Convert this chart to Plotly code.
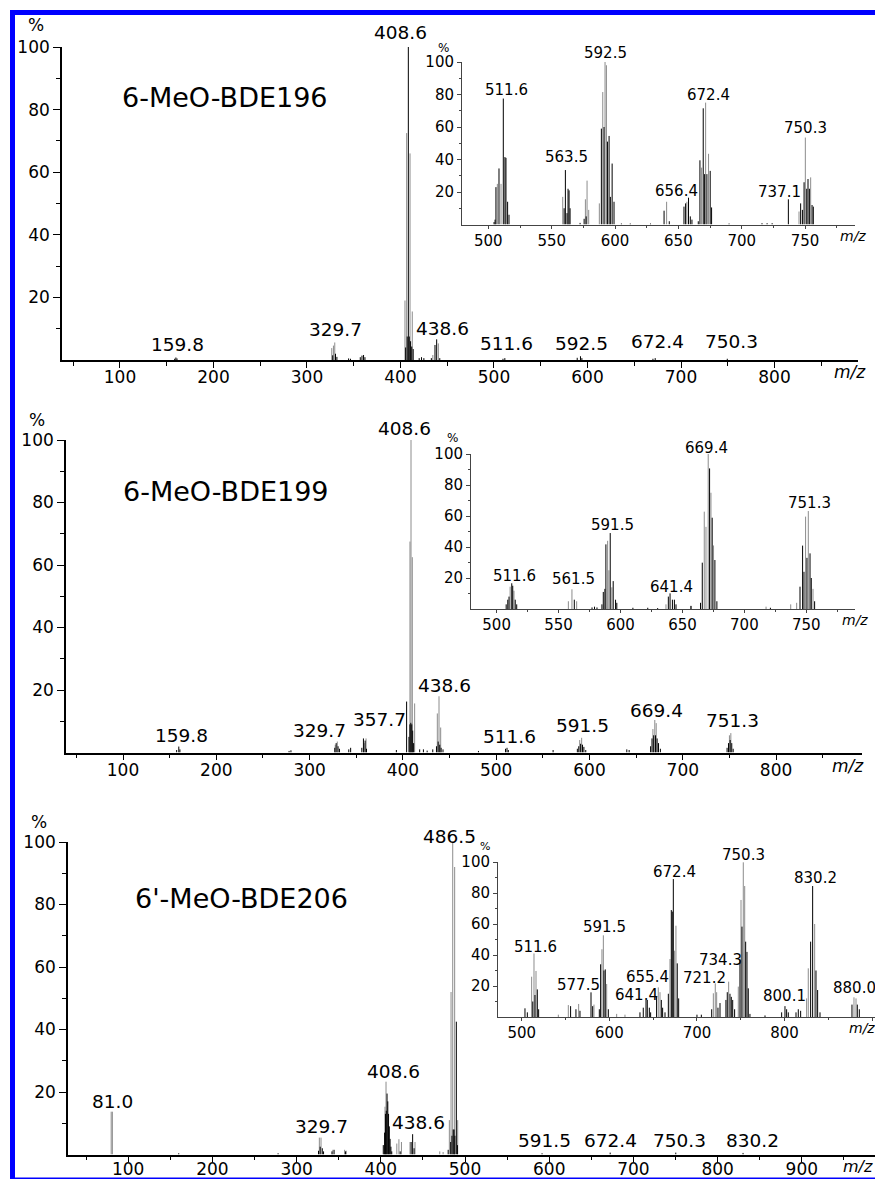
import plotly.graph_objects as go

W, H = 875, 1179
FONT = "DejaVu Sans"
GRAY = "#8c8c8c"
BLACK = "#000000"

# ======================= DATA =======================
# --- 6-MeO-BDE196, full scan ---
a_gray_mz = [326.5, 328.3, 329.7, 404.8, 406.6, 410.2, 412.6, 434.6, 440.5]
a_gray_int = [3.8, 4.6, 5.6, 19.0, 72.5, 66.0, 15.5, 1.6, 5.3]
a_black_mz = [158.5, 159.8, 161.0, 327.5, 330.5, 332.0, 344.5, 346.5, 357.0, 358.8, 360.5, 362.0,
              405.5, 407.2, 408.4, 409.4, 410.8, 412.0, 413.6, 420.0, 422.5, 425.0, 433.0, 436.9,
              438.7, 442.0, 509.6, 511.6, 589.0, 592.5, 594.0, 670.0, 672.4, 749.5]
a_black_int = [0.4, 0.8, 0.5, 1.5, 2.0, 1.0, 0.5, 0.4, 0.9, 1.4, 1.6, 0.9,
               4.0, 7.5, 100.0, 7.5, 6.0, 4.3, 3.5, 0.6, 0.9, 0.6, 0.6, 4.8,
               6.6, 0.6, 0.4, 0.6, 0.7, 1.2, 0.6, 0.4, 0.6, 0.4]
a_labels = ["408.6", "159.8", "329.7", "438.6", "511.6", "592.5", "672.4", "750.3"]

# --- 6-MeO-BDE196, inset ---
ai_gray_mz = [507.1, 510.0, 558.7, 576.6, 577.9, 579.2, 587.6, 590.3, 592.1, 593.2, 640.7,
              656.7, 668.3, 671.5, 673.8, 745.2, 750.2, 754.4]
ai_gray_int = [25, 25, 17, 15.5, 27, 9, 13, 81.5, 100, 98, 14,
               14, 35, 75, 43.5, 8, 53.5, 29]
ai_black_mz = [504.5, 505.3, 506.0, 508.4, 511.8, 513.1, 513.9, 515.2, 516.3, 559.8, 560.8, 562.1,
               562.9, 563.7, 564.5, 572.4, 575.6, 577.2, 589.2, 591.3, 594.0, 595.3, 596.3, 597.7,
               599.2, 605.0, 612.0, 628.0, 638.7, 642.8, 654.4, 655.7, 658.0, 659.4, 660.7, 665.7,
               667.0, 669.6, 670.7, 672.5, 675.1, 676.2, 690.0, 716.0, 720.0, 724.0, 736.8, 746.5,
               747.9, 749.2, 751.3, 752.3, 753.4, 755.5, 756.5]
ai_black_int = [1.5, 3, 23, 34.5, 77.5, 41.5, 41, 14, 6, 10, 33.5, 7,
                22, 21, 10, 1, 3.5, 5, 59, 60, 51, 54.5, 17, 37.5,
                14, 0.6, 0.6, 0.6, 8.5, 2, 11, 13, 16.5, 5, 3, 2,
                39.5, 71.5, 31, 31, 33, 10.5, 0.6, 0.8, 0.8, 0.8, 15.5, 13,
                9, 26, 22, 28, 22, 12, 11]
ai_labels = ["511.6", "563.5", "592.5", "656.4", "672.4", "737.1", "750.3"]

# --- 6-MeO-BDE199, full scan ---
b_gray_mz = [327.5, 329.7, 358.5, 360.5, 407.6, 408.7, 410.1, 412.6, 436.9, 438.7, 440.5,
             589.5, 591.6, 668.0, 670.0, 671.5, 750.0, 751.5]
b_gray_int = [2.5, 3.5, 3.0, 4.5, 67.5, 100, 62.5, 15.7, 12.5, 18.0, 8.0,
              4.0, 4.7, 7.5, 10.4, 9.4, 5.5, 6.2]
b_black_mz = [157.5, 159.8, 161.0, 278.0, 280.0, 327.0, 328.5, 330.5, 332.0, 342.0, 344.0, 356.0,
              357.7, 359.5, 361.0, 393.0, 404.0, 406.5, 407.5, 408.5, 409.5, 410.5, 411.5, 418.0,
              422.0, 426.0, 432.0, 436.0, 437.8, 439.5, 441.0, 443.0, 481.0, 510.0, 511.6, 513.0,
              561.0, 587.0, 588.5, 590.5, 592.5, 594.0, 596.0, 640.0, 642.5, 665.5, 667.0, 668.8,
              670.8, 672.5, 674.0, 676.0, 747.5, 749.0, 750.8, 752.5, 754.0]
b_black_int = [0.8, 1.9, 1.0, 0.5, 0.7, 1.5, 3.0, 2.0, 1.2, 1.0, 1.5, 1.5,
               4.5, 3.8, 1.2, 0.8, 16.3, 5, 9, 9.5, 9, 7, 3, 1.0,
               1.0, 0.6, 1.0, 2.0, 3.5, 2.5, 1.5, 1.0, 0.5, 1.2, 1.5, 0.8,
               0.8, 1.2, 2.0, 2.8, 2.5, 1.8, 0.8, 1.0, 0.8, 2.0, 4.5, 5.5,
               5.5, 4.5, 3.0, 1.2, 1.5, 3.0, 4.0, 3.0, 1.2]
b_labels = ["408.6", "159.8", "329.7", "357.7", "438.6", "511.6", "591.5", "669.4", "751.3"]

# --- 6-MeO-BDE199, inset ---
bi_gray_mz = [510.9, 514.0, 557.9, 560.8, 564.6, 589.6, 590.6, 593.0, 636.7, 656.5, 667.6,
              669.0, 670.8, 673.0, 675.1, 717.5, 737.4, 742.2, 749.4, 751.6, 755.4]
bi_gray_int = [14.4, 11.8, 5, 12.7, 5, 44, 25, 14, 3, 2, 62.8,
               53, 100, 75, 41, 1.5, 3, 4, 59.6, 63.2, 13]
bi_black_mz = [507.7, 509.0, 510.0, 512.2, 513.0, 515.0, 516.2, 562.7, 577.0, 579.0, 581.0, 585.0,
               586.1, 587.4, 588.2, 591.7, 594.1, 596.0, 597.0, 610.0, 622.0, 630.0, 638.6, 640.0,
               641.9, 643.5, 644.8, 657.0, 664.6, 666.0, 671.9, 674.0, 676.2, 677.8, 721.0, 744.9,
               747.0, 748.1, 750.5, 753.0, 754.0, 756.7]
bi_black_int = [3, 6, 8, 16.6, 15, 6, 3, 6, 1, 1.5, 1, 3,
                11, 13, 41.7, 49, 18, 6, 4, 0.8, 0.8, 0.6, 8, 10.1,
                6, 6, 3, 2, 4, 29.9, 90.7, 58.9, 31.6, 5, 0.8, 14.4,
                40.9, 24, 33, 35.9, 20, 5]
bi_labels = ["511.6", "561.5", "591.5", "641.4", "669.4", "751.3"]

# --- 6'-MeO-BDE206, full scan ---
c_gray_mz = [79.8, 81.2, 327.0, 329.0, 343.0, 357.0, 359.0, 402.6, 405.0, 406.2, 419.0, 421.5,
             424.5, 434.7, 440.6, 470.0, 474.0, 481.4, 483.4, 485.4, 487.7, 491.3]
c_gray_int = [13.7, 13.7, 5.4, 5.4, 1.5, 1.5, 1.2, 3, 15.3, 23.3, 3.5, 4.9,
              4.0, 4.0, 4.0, 1.0, 0.8, 11, 52, 100, 92, 11]
c_black_mz = [160.0, 278.0, 326.0, 328.0, 330.5, 332.0, 342.0, 344.5, 358.0, 403.5, 404.5, 405.5,
              406.5, 407.4, 408.3, 409.2, 410.1, 411.0, 412.0, 413.0, 423.0, 436.0, 437.8, 439.5,
              480.0, 483.0, 484.5, 486.0, 487.0, 488.0, 489.7, 491.0, 591.5, 672.4, 750.3, 830.2]
c_black_int = [0.4, 0.4, 1.2, 2.5, 2.0, 1.0, 1.0, 1.5, 1.0, 3, 7, 13,
               14, 19.5, 17, 13, 9, 5, 2.5, 1, 1, 4, 6.5, 2,
               1.5, 4, 6, 8, 8, 6, 42.5, 3, 0.4, 0.6, 0.6, 0.5]
c_labels = ["81.0", "329.7", "408.6", "438.6", "486.5", "591.5", "672.4", "750.3", "830.2"]

# --- 6'-MeO-BDE206, inset ---
ci_gray_mz = [511.2, 513.9, 516.2, 541.7, 553.1, 564.9, 582.4, 591.5, 593.1, 596.9, 608.3, 617.8,
              655.8, 657.8, 669.2, 674.5, 676.0, 718.7, 720.9, 722.5, 736.2, 747.2, 750.3, 752.9,
              754.5, 825.2, 827.1, 834.4, 879.3, 881.6]
ci_gray_int = [26, 41, 29.7, 1.5, 7.7, 8.4, 8, 43.7, 52.7, 21.3, 2, 1.5,
               19.1, 16, 37.4, 42.8, 58.9, 15.3, 21.7, 16, 22.8, 19.6, 75.5, 99.8,
               84.5, 12, 31.4, 60, 12.7, 12]
ci_black_mz = [503.6, 506.3, 512.5, 515.0, 517.7, 519.2, 555.7, 561.8, 566.4, 579.0, 580.9, 588.5,
               590.0, 593.8, 595.3, 598.8, 634.9, 638.7, 641.8, 643.3, 645.6, 647.1, 653.9, 659.3,
               660.8, 663.5, 667.3, 670.7, 671.8, 673.0, 677.5, 679.1, 700.0, 705.0, 716.8, 724.0,
               726.3, 733.1, 734.6, 737.7, 739.2, 740.8, 743.0, 749.1, 751.4, 755.6, 757.1, 758.6,
               760.5, 777.7, 796.7, 800.5, 802.4, 804.3, 813.1, 815.7, 818.4, 829.8, 832.1, 835.9,
               837.8, 840.5, 877.0, 883.1, 885.4]
ci_black_int = [5.6, 3, 10, 14.2, 17.8, 5, 7, 5, 4, 15.9, 7, 5,
                34, 30, 30.7, 5, 3, 6, 11, 11, 6, 3, 13, 11,
                6, 3, 15, 69, 68, 89, 34.6, 12, 1.5, 1.5, 5, 6,
                9, 11, 16, 15, 13, 11, 5, 37, 58.3, 48.6, 42, 18.5,
                2, 1, 3, 7, 5, 3, 3, 5, 4, 48.6, 84.5, 30,
                17.4, 3, 8, 8, 5]
ci_labels = ["511.6", "577.5", "591.5", "641.4", "655.4", "672.4", "721.2", "734.3", "750.3",
             "800.1", "830.2", "880.0"]

compounds = ["6-MeO-BDE196", "6-MeO-BDE199", "6'-MeO-BDE206"]

main_y_ticks = [20, 40, 60, 80, 100]
main_y_minor = [10, 30, 50, 70, 90]
main_x_ticks_ab = [100, 200, 300, 400, 500, 600, 700, 800]
main_x_minor_ab = [50, 150, 250, 350, 450, 550, 650, 750, 850]
main_x_ticks_c = [100, 200, 300, 400, 500, 600, 700, 800, 900]
main_x_minor_c = [50, 150, 250, 350, 450, 550, 650, 750, 850, 950]
inset_x_ticks_ab = [500, 550, 600, 650, 700, 750]
inset_x_minor_ab = [525, 575, 625, 675, 725, 775]
inset_x_ticks_c = [500, 600, 700, 800, 900]
inset_x_minor_c = [550, 650, 750, 850]

# ======================= LAYOUT CONFIG (positions in px / axis units) =======================
def fx(px):
    return px / W


def fy(py):
    return 1 - py / H


# label placements (m/z, %) per panel, same order as label lists
a_lab_pos = [(400.5, 104.6), (161.0, 5.1), (330.0, 9.6), (445.4, 10.2), (513.9, 5.4),
             (594.1, 5.4), (675.4, 5.8), (754.5, 5.8)]
ai_lab_pos = [(514.5, 82.8), (561.9, 41.7), (592.2, 105.4), (648.7, 20.6), (673.6, 79.7),
              (729.7, 20.2), (750.7, 59.2)]
b_lab_pos = [(402.2, 103.8), (162.9, 5.6), (310.5, 7.2), (374.9, 10.6), (445.1, 21.6),
             (514.8, 5.0), (592.0, 8.8), (672.3, 13.6), (753.8, 10.4)]
bi_lab_pos = [(514.3, 21.3), (561.9, 19.2), (593.7, 54.2), (641.3, 14.4), (669.6, 103.7),
              (752.4, 68.2)]
c_lab_pos = [(81.9, 16.9), (329.8, 8.9), (414.8, 26.5), (444.2, 10.1), (482.0, 101.7),
             (593.8, 4.6), (673.0, 4.6), (754.2, 4.6), (842.0, 4.6)]
ci_lab_pos = [(515.8, 45.4), (564.5, 20.6), (594.2, 58.3), (631.1, 14.2), (643.3, 26.0),
              (674.9, 93.7), (709.1, 25.0), (726.3, 36.8), (752.9, 104.5), (800.5, 13.5),
              (834.8, 89.9), (880.4, 18.5)]

panels = [
    dict(ax="", main=True, xd=(62, 858), yd=(360, 47), xr=(38.0, 889.3), so=-5,
         gm=a_gray_mz, gi=a_gray_int, bm=a_black_mz, bi=a_black_int,
         labels=a_labels, pos=a_lab_pos, xt=main_x_ticks_ab, xm=main_x_minor_ab),
    dict(ax="2", main=False, xd=(462, 855), yd=(224.5, 62), xr=(479.2, 789.4), so=-1,
         gm=ai_gray_mz, gi=ai_gray_int, bm=ai_black_mz, bi=ai_black_int,
         labels=ai_labels, pos=ai_lab_pos, xt=inset_x_ticks_ab, xm=inset_x_minor_ab),
    dict(ax="3", main=True, xd=(66, 862), yd=(752.5, 440), xr=(38.9, 892.1), so=-5,
         gm=b_gray_mz, gi=b_gray_int, bm=b_black_mz, bi=b_black_int,
         labels=b_labels, pos=b_lab_pos, xt=main_x_ticks_ab, xm=main_x_minor_ab),
    dict(ax="4", main=False, xd=(471, 855), yd=(609, 454), xr=(479.3, 789.3), so=-1,
         gm=bi_gray_mz, gi=bi_gray_int, bm=bi_black_mz, bi=bi_black_int,
         labels=bi_labels, pos=bi_lab_pos, xt=inset_x_ticks_ab, xm=inset_x_minor_ab),
    dict(ax="5", main=True, xd=(68, 875), yd=(1154.5, 842), xr=(28.5, 986.9), so=-8,
         gm=c_gray_mz, gi=c_gray_int, bm=c_black_mz, bi=c_black_int,
         labels=c_labels, pos=c_lab_pos, xt=main_x_ticks_c, xm=main_x_minor_c),
    dict(ax="6", main=False, xd=(498, 875), yd=(1017, 862), xr=(472.8, 903.3), so=-1,
         gm=ci_gray_mz, gi=ci_gray_int, bm=ci_black_mz, bi=ci_black_int,
         labels=ci_labels, pos=ci_lab_pos, xt=inset_x_ticks_c, xm=inset_x_minor_c),
]


def sticks(mz, inten):
    assert len(mz) == len(inten), (len(mz), len(inten))
    xs, ys = [], []
    for m, v in zip(mz, inten):
        xs += [m, m, None]
        ys += [0, v, None]
    return xs, ys


fig = go.Figure()
layout = dict(width=W, height=H, autosize=False,
              margin=dict(l=0, r=0, t=0, b=0, pad=0, autoexpand=False),
              paper_bgcolor="white", plot_bgcolor="rgba(0,0,0,0)",
              showlegend=False, hovermode=False, font=dict(family=FONT, color="black"))
annotations = []

for p in panels:
    xa = "x" + p["ax"]
    ya = "y" + p["ax"]
    main = p["main"]
    for mzs, ints, col in ((p["gm"], p["gi"], GRAY), (p["bm"], p["bi"], BLACK)):
        xs, ys = sticks(mzs, ints)
        fig.add_trace(go.Scatter(x=xs, y=ys, mode="lines", xaxis=xa, yaxis=ya,
                                 line=dict(color=col, width=1), hoverinfo="skip"))
    lc = "black" if main else "#444444"
    lw = 1.6 if main else 1
    tf = 17 if main else 15
    layout["xaxis" + p["ax"]] = dict(
        domain=[fx(p["xd"][0]), fx(p["xd"][1])], range=list(p["xr"]), anchor=ya,
        automargin=False,
        showline=True, linecolor=lc, linewidth=lw, showgrid=False, zeroline=False,
        ticks="outside", ticklen=6 if main else 3, tickwidth=1.2 if main else 1, tickcolor=lc,
        tickmode="array", tickvals=p["xt"], ticktext=[str(v) for v in p["xt"]],
        ticklabelstandoff=p["so"],
        tickfont=dict(family=FONT, size=tf, color="black"),
        minor=dict(tickmode="array", tickvals=p["xm"], ticks="outside",
                   ticklen=4 if main else 2, tickcolor=lc, tickwidth=1),
        fixedrange=True)
    layout["yaxis" + p["ax"]] = dict(
        domain=[fy(p["yd"][0]), fy(p["yd"][1])], range=[0, 100], anchor=xa,
        automargin=False,
        showline=True, linecolor=lc, linewidth=lw, showgrid=False, zeroline=False,
        ticks="outside", ticklen=7 if main else 4, tickwidth=1.2 if main else 1, tickcolor=lc,
        tickmode="array", tickvals=main_y_ticks, ticktext=[str(v) for v in main_y_ticks],
        tickfont=dict(family=FONT, size=tf, color="black"),
        minor=dict(tickmode="array", tickvals=main_y_minor, ticks="outside",
                   ticklen=4 if main else 2, tickcolor=lc, tickwidth=1),
        fixedrange=True)
    for txt, (lx, ly) in zip(p["labels"], p["pos"]):
        annotations.append(dict(text=txt, x=lx, y=ly / 100.0, xref=xa, yref=ya + " domain",
                                showarrow=False, xanchor="center", yanchor="middle",
                                font=dict(family=FONT, size=18.5 if main else 15, color="black")))

# compound names
for name, (cx, cy) in zip(compounds, [(225, 98), (226, 492), (241.5, 898)]):
    annotations.append(dict(text=name, x=fx(cx), y=fy(cy), xref="paper", yref="paper",
                            showarrow=False, xanchor="center", yanchor="middle",
                            font=dict(family=FONT, size=27, color="black")))
# % labels
for (cx, cy, s) in [(36, 25, 17), (37, 420, 17), (39, 822, 17),
                    (443, 48, 12), (452, 438, 12), (485, 846, 11)]:
    annotations.append(dict(text="%", x=fx(cx), y=fy(cy), xref="paper", yref="paper",
                            showarrow=False, xanchor="center", yanchor="middle",
                            font=dict(family=FONT, size=s, color="black")))
# m/z labels
for (cx, cy, s) in [(832, 372, 17), (830, 766, 17), (841, 1166, 16),
                    (838, 236, 14), (847, 1028, 14), (840, 620, 14)]:
    annotations.append(dict(text="<i>m/z</i>", x=fx(cx), y=fy(cy), xref="paper", yref="paper",
                            showarrow=False, xanchor="left", yanchor="middle",
                            font=dict(family=FONT, size=s, color="black")))

layout["annotations"] = annotations
BLUE = "#0000ff"
layout["shapes"] = [
    dict(type="line", xref="paper", yref="paper", x0=fx(12.5), x1=fx(12.5), y0=fy(10), y1=fy(1185),
         line=dict(color=BLUE, width=5)),
    dict(type="line", xref="paper", yref="paper", x0=fx(10), x1=fx(890), y0=fy(12.5), y1=fy(12.5),
         line=dict(color=BLUE, width=5)),
    dict(type="line", xref="paper", yref="paper", x0=fx(10), x1=fx(890), y0=fy(1178.5), y1=fy(1178.5),
         line=dict(color=BLUE, width=2)),
]
fig.update_layout(**layout)
fig.write_html("out.html", config={"displayModeBar": False})
